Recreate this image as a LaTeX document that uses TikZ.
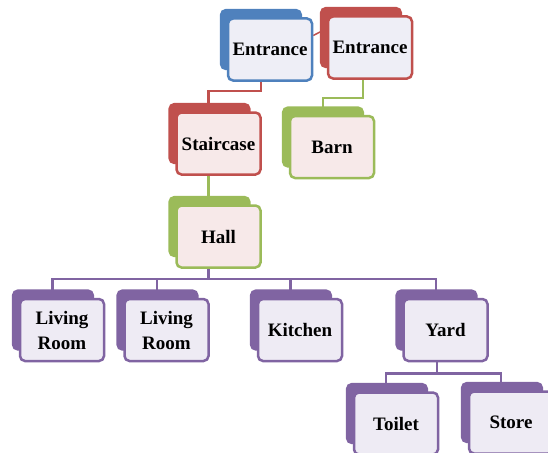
\documentclass[tikz,border=0pt]{standalone}
\usepackage{fontspec}
\setmainfont{Liberation Serif}
\usepackage{tikz}
\usetikzlibrary{shadows, backgrounds, positioning}

\definecolor{cblue}{HTML}{4F81BD}
\definecolor{cred}{HTML}{C0504D}
\definecolor{cgreen}{HTML}{9BBB59}
\definecolor{cpurple}{HTML}{8064A2}
\definecolor{clav}{HTML}{EEEEF6}
\definecolor{cpink}{HTML}{F7E9E9}
\definecolor{clilac}{HTML}{EEEBF4}

\begin{document}
\begin{tikzpicture}[
    x=1pt, y=-1pt,
    card/.style={rectangle, draw, rounded corners=5pt, line width=2.5pt, minimum width=84pt, minimum height=62pt, align=center, inner sep=1pt, font=\fontsize{19}{25}\selectfont\bfseries},
    back/.style={general shadow={shadow xshift=-9.5pt, shadow yshift=10.5pt, shadow scale=0.95, fill=#1, draw=#1, line width=2.5pt}},
    bluecard/.style={card, draw=cblue, fill=clav, back=cblue},
    redcard/.style={card, draw=cred, fill=clav, back=cred},
    redpink/.style={card, draw=cred, fill=cpink, back=cred},
    greencard/.style={card, draw=cgreen, fill=cpink, back=cgreen},
    roomcard/.style={card, draw=cpurple, fill=clilac, back=cpurple},
    link/.style={line width=2.5pt}
]
\useasboundingbox (0,0) rectangle (548,452);

% Nodes
\node[bluecard] (ent1) at (270,49.5) {Entrance};
\node[redcard] (ent2) at (370,47.5) {Entrance};
\node[redpink] (stair) at (218.5,143.5) {Staircase};
\node[greencard] (barn) at (332,147) {Barn};
\node[greencard] (hall) at (218.5,236.5) {Hall};
\node[roomcard] (liv1) at (62,330) {Living\\Room};
\node[roomcard] (liv2) at (166.5,330) {Living\\Room};
\node[roomcard] (kitchen) at (300,330) {Kitchen};
\node[roomcard] (yard) at (445.5,330) {Yard};
\node[roomcard] (toilet) at (396,423.5) {Toilet};
\node[roomcard] (store) at (511,422.5) {Store};

% Connections
\begin{scope}[on background layer]
\draw[link, draw=cred, line width=1.5pt] ([yshift=14pt]ent1.east) -- ([yshift=19pt]ent2.west);
\draw[link, draw=cred] ([xshift=-9pt]ent1.south) -- ++(0,9) -| ([xshift=-10pt]stair.north);
\draw[link, draw=cgreen] ([xshift=-7pt]ent2.south) -- ++(0,18) -| ([xshift=-9pt]barn.north);
\draw[link, draw=cgreen] ([xshift=-10pt]stair.south) -- ([xshift=-10pt]hall.north);
\foreach \k in {liv1,liv2,kitchen,yard}
    \draw[link, draw=cpurple] ([xshift=-10pt]hall.south) -- ++(0,10) -| ([xshift=-9.5pt]\k.north);
\foreach \k in {toilet,store}
    \draw[link, draw=cpurple] ([xshift=-8.5pt]yard.south) -- ++(0,11) -| ([xshift=-10pt]\k.north);
\end{scope}

\end{tikzpicture}
\end{document}
